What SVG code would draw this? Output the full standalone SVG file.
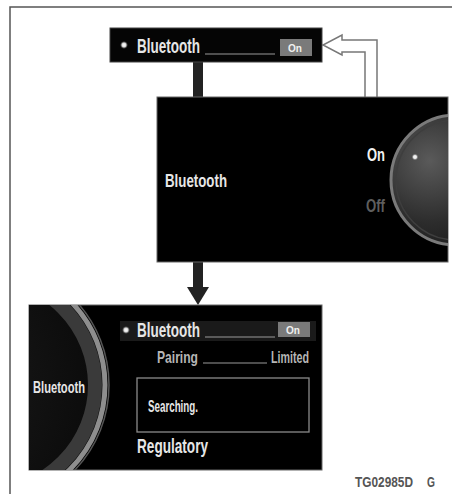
<svg xmlns="http://www.w3.org/2000/svg" width="452" height="494" viewBox="0 0 452 494">
<style>
.t{font-family:"Liberation Sans",Arial,sans-serif;font-weight:bold;}
.w{fill:#e6e6e6;}
.g{fill:#b5b5b5;}
.ul{stroke:#9a9a9a;stroke-width:1.2;}
.btn{fill:#7a7a7a;}
.bt{font-family:"Liberation Sans",Arial,sans-serif;font-weight:bold;font-size:11px;fill:#f0f0f0;}
</style>
<defs>
<radialGradient id="knob" cx="0.3" cy="0.35" r="0.8">
<stop offset="0" stop-color="#5a5a5a"/>
<stop offset="0.6" stop-color="#2c2c2c"/>
<stop offset="1" stop-color="#181818"/>
</radialGradient>
<radialGradient id="leftg" cx="0.2" cy="0.5" r="0.9">
<stop offset="0" stop-color="#1e1e1e"/>
<stop offset="1" stop-color="#080808"/>
</radialGradient>
<radialGradient id="dot">
<stop offset="0" stop-color="#ffffff"/>
<stop offset="0.5" stop-color="#dddddd"/>
<stop offset="1" stop-color="#666666" stop-opacity="0"/>
</radialGradient>
<clipPath id="midclip"><rect x="157" y="97" width="291" height="165"/></clipPath>
<clipPath id="botclip"><rect x="29" y="305" width="293" height="165"/></clipPath>
</defs>
<rect width="452" height="494" fill="#ffffff"/>
<path d="M10,494 V7 H452" fill="none" stroke="#555" stroke-width="1.5"/>

<g id="connectors">
<rect x="193" y="62" width="10" height="36" fill="#222"/>
<rect x="193" y="262" width="10" height="26" fill="#222"/>
<polygon points="187,287 209,287 198,305" fill="#222"/>
<path d="M377,97 V40 H342 V35 L323,45 L342,55 V52 H365 V97" fill="#fff" stroke="#777" stroke-width="1.5"/>
</g>

<g id="top-bar">
<rect x="110" y="28" width="212" height="34" fill="#050505" stroke="#444" stroke-width="1"/>
<circle cx="124" cy="45" r="4" fill="url(#dot)"/>
<text class="t w" x="137" y="53" font-size="20" textLength="63" lengthAdjust="spacingAndGlyphs">Bluetooth</text>
<line class="ul" x1="205" y1="54" x2="275" y2="54"/>
<rect class="btn" x="280" y="39" width="32" height="17"/>
<text class="bt" x="288" y="52" textLength="14" lengthAdjust="spacingAndGlyphs">On</text>
</g>

<g id="middle-panel">
<rect x="157" y="97" width="291" height="165" fill="#000" stroke="#666" stroke-width="1"/>
<g clip-path="url(#midclip)">
<circle cx="456" cy="180" r="65" fill="url(#knob)" stroke="#7a7a7a" stroke-width="3"/>
<circle cx="456" cy="180" r="60" fill="none" stroke="#3e3e3e" stroke-width="1.5"/>
</g>
<circle cx="415" cy="157" r="3.5" fill="url(#dot)"/>
<text class="t w" x="165" y="187" font-size="19" textLength="62" lengthAdjust="spacingAndGlyphs">Bluetooth</text>
<text class="t" x="367" y="161" font-size="19" fill="#f2f2f2" textLength="18" lengthAdjust="spacingAndGlyphs">On</text>
<text class="t" x="366" y="212" font-size="19" fill="#5e5e5e" textLength="19" lengthAdjust="spacingAndGlyphs">Off</text>
</g>

<g id="bottom-panel">
<rect x="29" y="305" width="293" height="165" fill="#000" stroke="#666" stroke-width="1"/>
<g clip-path="url(#botclip)">
<circle cx="-14" cy="385" r="118" fill="url(#leftg)"/>
<circle cx="-14" cy="385" r="109" fill="none" stroke="#3a3a3a" stroke-width="14"/>
<circle cx="-14" cy="385" r="119" fill="none" stroke="#8e8e8e" stroke-width="5"/>
<circle cx="-14" cy="385" r="123" fill="none" stroke="#555" stroke-width="1.5"/>
</g>
<text class="t w" x="33" y="393" font-size="17" textLength="52" lengthAdjust="spacingAndGlyphs">Bluetooth</text>
<rect x="120" y="321" width="196" height="20" fill="#1a1a1a"/>
<circle cx="126" cy="330" r="4" fill="url(#dot)"/>
<text class="t w" x="137" y="337" font-size="20" textLength="63" lengthAdjust="spacingAndGlyphs">Bluetooth</text>
<line class="ul" x1="205" y1="337" x2="275" y2="337"/>
<rect class="btn" x="278" y="322" width="32" height="15"/>
<text class="bt" x="286" y="334" textLength="14" lengthAdjust="spacingAndGlyphs">On</text>
<text class="t g" x="157" y="363" font-size="17" textLength="41" lengthAdjust="spacingAndGlyphs">Pairing</text>
<line class="ul" x1="203" y1="363" x2="267" y2="363"/>
<text class="t g" x="271" y="363" font-size="16" textLength="38" lengthAdjust="spacingAndGlyphs">Limited</text>
<rect x="137" y="378" width="172" height="54" fill="none" stroke="#8a8a8a" stroke-width="1.3"/>
<text class="t w" x="148" y="412" font-size="16" textLength="50" lengthAdjust="spacingAndGlyphs">Searching.</text>
<text class="t w" x="137" y="453" font-size="20" textLength="71" lengthAdjust="spacingAndGlyphs">Regulatory</text>
</g>

<g id="caption">
<text class="t" x="355" y="487" font-size="14" fill="#555" textLength="58" lengthAdjust="spacingAndGlyphs">TG02985D</text>
<text class="t" x="427" y="487" font-size="14" fill="#555" textLength="8" lengthAdjust="spacingAndGlyphs">G</text>
</g>
</svg>
